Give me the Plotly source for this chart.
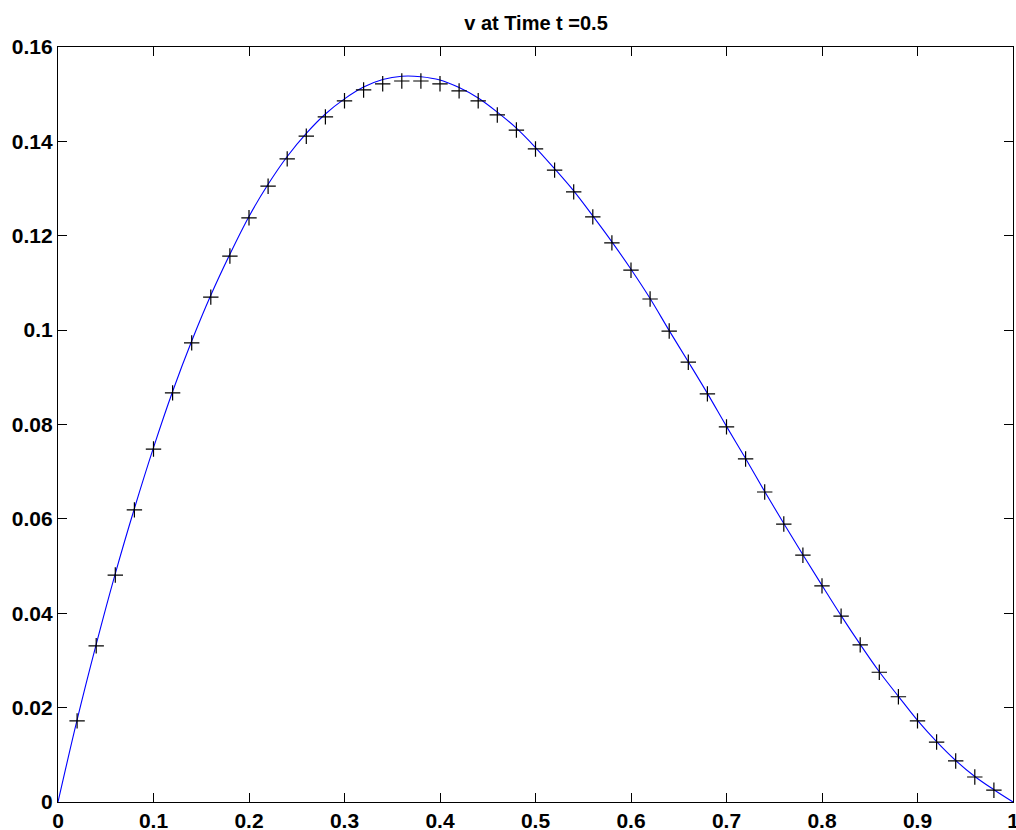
import plotly.graph_objects as go

# Marker (numerical) samples
x_pts = [0.02, 0.04, 0.06, 0.08, 0.10, 0.12, 0.14, 0.16, 0.18, 0.20,
         0.22, 0.24, 0.26, 0.28, 0.30, 0.32, 0.34, 0.36, 0.38, 0.40,
         0.42, 0.44, 0.46, 0.48, 0.50, 0.52, 0.54, 0.56, 0.58, 0.60,
         0.62, 0.64, 0.66, 0.68, 0.70, 0.72, 0.74, 0.76, 0.78, 0.80,
         0.82, 0.84, 0.86, 0.88, 0.90, 0.92, 0.94, 0.96, 0.98]
v_pts = [0.0172, 0.0331, 0.0481, 0.0619, 0.0748, 0.0867, 0.0973, 0.1070, 0.1157, 0.1238,
         0.1305, 0.1363, 0.1411, 0.1452, 0.1486, 0.1509, 0.1522, 0.1528, 0.1528, 0.1522,
         0.1507, 0.1486, 0.1456, 0.1424, 0.1384, 0.1339, 0.1293, 0.1240, 0.1185, 0.1127,
         0.1066, 0.0998, 0.0932, 0.0865, 0.0795, 0.0727, 0.0657, 0.0589, 0.0523, 0.0458,
         0.0394, 0.0333, 0.0275, 0.0223, 0.0172, 0.0127, 0.0087, 0.0053, 0.0025]

# Solid (exact) curve samples
x_line = [0.00, 0.02, 0.04, 0.06, 0.08, 0.10, 0.12, 0.14, 0.16, 0.18, 0.20,
          0.22, 0.24, 0.26, 0.28, 0.30, 0.32, 0.34, 0.36, 0.38, 0.40,
          0.42, 0.44, 0.46, 0.48, 0.50, 0.52, 0.54, 0.56, 0.58, 0.60,
          0.62, 0.64, 0.66, 0.68, 0.70, 0.72, 0.74, 0.76, 0.78, 0.80,
          0.82, 0.84, 0.86, 0.88, 0.90, 0.92, 0.94, 0.96, 0.98, 1.00]
v_line = [0.0, 0.0174, 0.0334, 0.0484, 0.0622, 0.0751, 0.0870, 0.0977, 0.1074, 0.1161, 0.1241,
          0.1309, 0.1368, 0.1417, 0.1458, 0.1490, 0.1515, 0.1531, 0.1538, 0.1537, 0.1530,
          0.1514, 0.1492, 0.1462, 0.1428, 0.1387, 0.1342, 0.1295, 0.1242, 0.1187, 0.1129,
          0.1067, 0.0999, 0.0933, 0.0866, 0.0796, 0.0728, 0.0658, 0.0590, 0.0524, 0.0459,
          0.0395, 0.0334, 0.0276, 0.0224, 0.0173, 0.0128, 0.0088, 0.0054, 0.0026, 0.0]

x_ticks = [0, 0.1, 0.2, 0.3, 0.4, 0.5, 0.6, 0.7, 0.8, 0.9, 1]
x_tick_text = ["0", "0.1", "0.2", "0.3", "0.4", "0.5", "0.6", "0.7", "0.8", "0.9", "1"]
y_ticks = [0, 0.02, 0.04, 0.06, 0.08, 0.10, 0.12, 0.14, 0.16]
y_tick_text = ["0", "0.02", "0.04", "0.06", "0.08", "0.1", "0.12", "0.14", "0.16"]

fig = go.Figure()
fig.add_trace(go.Scatter(x=x_line, y=v_line, mode="lines",
                         line=dict(color="#0000ff", width=1.1, shape="spline"),
                         showlegend=False, hoverinfo="skip", cliponaxis=False))
fig.add_trace(go.Scatter(x=x_pts, y=v_pts, mode="markers",
                         marker=dict(symbol="cross-thin", size=11,
                                     line=dict(color="black", width=1.2)),
                         showlegend=False))

axis_common = dict(showgrid=False, zeroline=False, showline=True, linecolor="black",
                   linewidth=1.2, mirror="ticks", ticks="inside", ticklen=9,
                   tickcolor="black", tickwidth=1, automargin=False,
                   ticklabeloverflow="allow",
                   tickfont=dict(family="Liberation Sans, Arial", size=21, color="black",
                                 weight="bold"))

fig.update_layout(
    width=1016, height=830,
    margin=dict(l=58, r=3, t=47, b=28, autoexpand=False),
    plot_bgcolor="white", paper_bgcolor="white",
    title=dict(text="v at Time t =0.5", x=536 / 1016, xanchor="center",
               y=1 - 23 / 830, yanchor="middle",
               font=dict(family="Liberation Sans, Arial", size=20, color="black",
                         weight="bold")),
    xaxis=dict(range=[0, 1], tickvals=x_ticks, ticktext=x_tick_text, **axis_common),
    yaxis=dict(range=[0, 0.16], tickvals=y_ticks, ticktext=y_tick_text, **axis_common),
)

fig.write_html(
    "out.html",
    config={"displayModeBar": False},
    post_script="document.body.style.margin='0';document.body.style.overflow='hidden';",
)
